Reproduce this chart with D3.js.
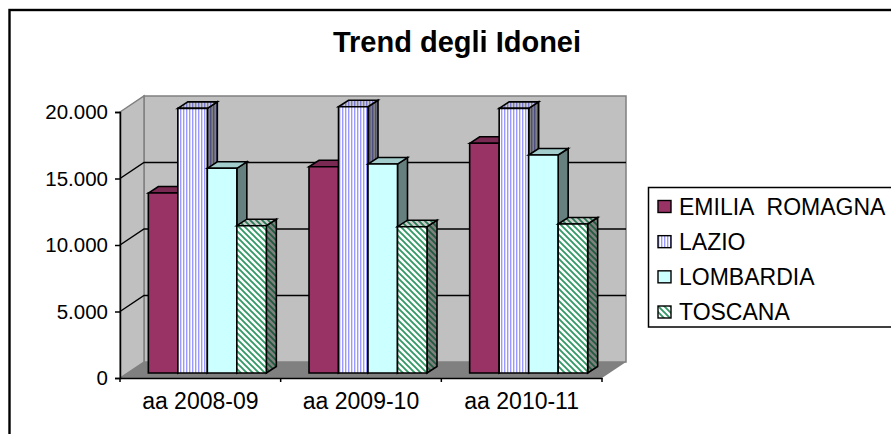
<!DOCTYPE html>
<html>
<head>
<meta charset="utf-8">
<title>Trend degli Idonei</title>
<script src="https://cdn.jsdelivr.net/npm/d3@7"></script>
<style>
	body { margin: 0; background: #fff; }
	svg { display: block; }
	text { font-family: "Liberation Sans", Arial, sans-serif; fill: #000; }
</style>
</head>
<body>
<div id="chart-area"></div>
<script>

// Data
var years = ["aa 2008-09", "aa 2009-10", "aa 2010-11"];
var regions = ["EMILIA ROMAGNA", "LAZIO", "LOMBARDIA", "TOSCANA"];
var emilia = [13530, 15510, 17270];
var lazio = [19900, 20020, 19900];
var lombardia = [15390, 15710, 16390];
var toscana = [11075, 11000, 11200];
var yTicks = [0, 5000, 10000, 15000, 20000];
var seriesValues = [emilia, lazio, lombardia, toscana];

// SVG Size
var width = 891,
		height = 434;

var svg = d3.select("#chart-area").append("svg")
		.attr("width", width)
		.attr("height", height);

// Hatch patterns: one set per face (front, top, side)
var defs = svg.append("defs");

function stripes(id, w, back, fore) {
	var p = defs.append("pattern")
		.attr("id", id)
		.attr("patternUnits", "userSpaceOnUse")
		.attr("width", w)
		.attr("height", 3);
	p.append("rect").attr("width", w).attr("height", 3).attr("fill", back);
	p.append("rect").attr("width", 1.4).attr("height", 3).attr("fill", fore);
}

function diagonal(id, back, fore) {
	var p = defs.append("pattern")
		.attr("id", id)
		.attr("patternUnits", "userSpaceOnUse")
		.attr("width", 6)
		.attr("height", 6);
	p.append("rect").attr("width", 6).attr("height", 6).attr("fill", back);
	p.append("path")
		.attr("d", "M-1.5,1.5L1.5,-1.5M0,6L6,0M4.5,7.5L7.5,4.5")
		.attr("transform", "translate(6,0) scale(-1,1)")
		.attr("stroke", fore)
		.attr("stroke-width", 1.9);
}

stripes("lazio-front", 3, "#ffffff", "#9999ff");
stripes("lazio-top", 3, "#c8c8c8", "#7a7acc");
stripes("lazio-side", 3, "#808080", "#4d4d80");
diagonal("toscana-front", "#ffffff", "#339966");
diagonal("toscana-top", "#cccccc", "#297a52");
diagonal("toscana-side", "#808080", "#1f5c3d");

// Colours of each series, front / top / side
var faces = [
	{ front: "#993366", top: "#7a2952", side: "#5c1f3d" },
	{ front: "url(#lazio-front)", top: "url(#lazio-top)", side: "url(#lazio-side)" },
	{ front: "#ccffff", top: "#a3cccc", side: "#668080" },
	{ front: "url(#toscana-front)", top: "url(#toscana-top)", side: "url(#toscana-side)" }
];

// Scales on the front plane of the plot
var xScale = d3.scaleBand()
	.domain(years)
	.range([120, 602]);

var yScale = d3.scaleLinear()
	.domain([0, 20000])
	.range([378, 112]);

// Inner band for the four bars of a group
var barScale = d3.scaleBand()
	.domain(regions)
	.range([0, 118]);

// 3D offsets
var wallDx = 24, wallDy = -16;
var barShiftX = 7, barShiftY = -5;
var barDx = 10, barDy = -6.5;
var groupPad = (xScale.bandwidth() - 118) / 2;

function poly(points) {
	return "M" + points.map(function(p) { return p.join(","); }).join("L") + "Z";
}

// Outer frame, runs off the right and bottom of the picture
svg.append("rect")
	.attr("x", 9.5).attr("y", 10)
	.attr("width", 1000).attr("height", 600)
	.attr("fill", "#fff")
	.attr("stroke", "#000")
	.attr("stroke-width", 2.4);

// Title
svg.append("text")
	.attr("x", 457).attr("y", 52)
	.attr("text-anchor", "middle")
	.attr("font-size", 29)
	.attr("font-weight", "bold")
	.text("Trend degli Idonei");

var x0 = xScale.range()[0], x1 = xScale.range()[1];
var yBase = yScale(0), yTop = yScale(20000);

// Back wall, side wall, floor
svg.append("path")
	.attr("d", poly([[x0 + wallDx, yTop + wallDy], [x1 + wallDx, yTop + wallDy], [x1 + wallDx, yBase + wallDy], [x0 + wallDx, yBase + wallDy]]))
	.attr("fill", "#c0c0c0")
	.attr("stroke", "#808080")
	.attr("stroke-width", 1.5);

svg.append("path")
	.attr("d", poly([[x0, yTop], [x0 + wallDx, yTop + wallDy], [x0 + wallDx, yBase + wallDy], [x0, yBase]]))
	.attr("fill", "#c0c0c0")
	.attr("stroke", "#808080")
	.attr("stroke-width", 1.5);

svg.append("path")
	.attr("d", poly([[x0, yBase], [x1, yBase], [x1 + wallDx, yBase + wallDy], [x0 + wallDx, yBase + wallDy]]))
	.attr("fill", "#808080");

// Gridlines on both walls
svg.selectAll(".grid")
	.data(yTicks.slice(1, 4))
	.enter()
	.append("path")
	.attr("class", "grid")
	.attr("d", function(d) {
		var y = yScale(d);
		return "M" + x0 + "," + y + "L" + (x0 + wallDx) + "," + (y + wallDy) + "L" + (x1 + wallDx) + "," + (y + wallDy);
	})
	.attr("fill", "none")
	.attr("stroke", "#000")
	.attr("stroke-width", 1.5);

// Bars
var barWidth = barScale.bandwidth();

years.forEach(function(year, i) {
	regions.forEach(function(region, s) {
		var left = xScale(year) + groupPad + barScale(region) + barShiftX;
		var right = left + barWidth;
		var bottom = yScale(0) + barShiftY;
		var top = yScale(seriesValues[s][i]) + barShiftY;
		var g = svg.append("g")
			.attr("stroke", "#000")
			.attr("stroke-width", 1.6)
			.attr("stroke-linejoin", "miter");

		g.append("path")
			.attr("d", poly([[right, top], [right + barDx, top + barDy], [right + barDx, bottom + barDy], [right, bottom]]))
			.attr("fill", faces[s].side);
		g.append("path")
			.attr("d", poly([[left, top], [left + barDx, top + barDy], [right + barDx, top + barDy], [right, top]]))
			.attr("fill", faces[s].top);
		g.append("path")
			.attr("d", poly([[left, top], [right, top], [right, bottom], [left, bottom]]))
			.attr("fill", faces[s].front);
	});
});

// Axes
var formatTick = function(d) { return d3.format(",")(d).replace(",", "."); };

var yAxis = d3.axisLeft(yScale)
	.tickValues(yTicks)
	.tickFormat(formatTick)
	.tickSize(5)
	.tickPadding(7);

var xAxis = d3.axisBottom(xScale)
	.tickSize(0)
	.tickPadding(15);

var gy = svg.append("g").attr("transform", "translate(" + x0 + ",0)").call(yAxis);
var gx = svg.append("g").attr("transform", "translate(0," + yBase + ")").call(xAxis);

gy.selectAll("text").attr("font-size", 20.5);
gx.selectAll("text").attr("font-size", 23);
gy.selectAll("line, path").attr("stroke", "#000").attr("stroke-width", 1.5);
gx.selectAll("path").attr("stroke", "#000").attr("stroke-width", 1.5);

// Category separators under the x axis
var separators = years.map(function(y) { return xScale(y); }).concat([x1]);
svg.selectAll(".sep")
	.data(separators)
	.enter()
	.append("line")
	.attr("class", "sep")
	.attr("x1", function(d) { return d; })
	.attr("x2", function(d) { return d; })
	.attr("y1", yBase)
	.attr("y2", yBase + 4)
	.attr("stroke", "#000")
	.attr("stroke-width", 1.5);

// Legend, box also runs off the right side
svg.append("rect")
	.attr("x", 648.5).attr("y", 187.5)
	.attr("width", 300).attr("height", 139.5)
	.attr("fill", "#fff")
	.attr("stroke", "#000")
	.attr("stroke-width", 1.5);

var legendY = d3.scalePoint()
	.domain(regions)
	.range([206.5, 312]);

var legend = svg.selectAll(".legend-item")
	.data(regions)
	.enter()
	.append("g")
	.attr("class", "legend-item")
	.attr("transform", function(d) { return "translate(658," + legendY(d) + ")"; });

legend.append("rect")
	.attr("x", 0).attr("y", -6)
	.attr("width", 13).attr("height", 12)
	.attr("fill", function(d, i) { return faces[i].front; })
	.attr("stroke", "#000")
	.attr("stroke-width", 1.4);

legend.append("text")
	.attr("x", 21).attr("y", 8)
	.attr("font-size", 23)
	.attr("word-spacing", 7)
	.text(function(d) { return d; });

</script>
</body>
</html>
